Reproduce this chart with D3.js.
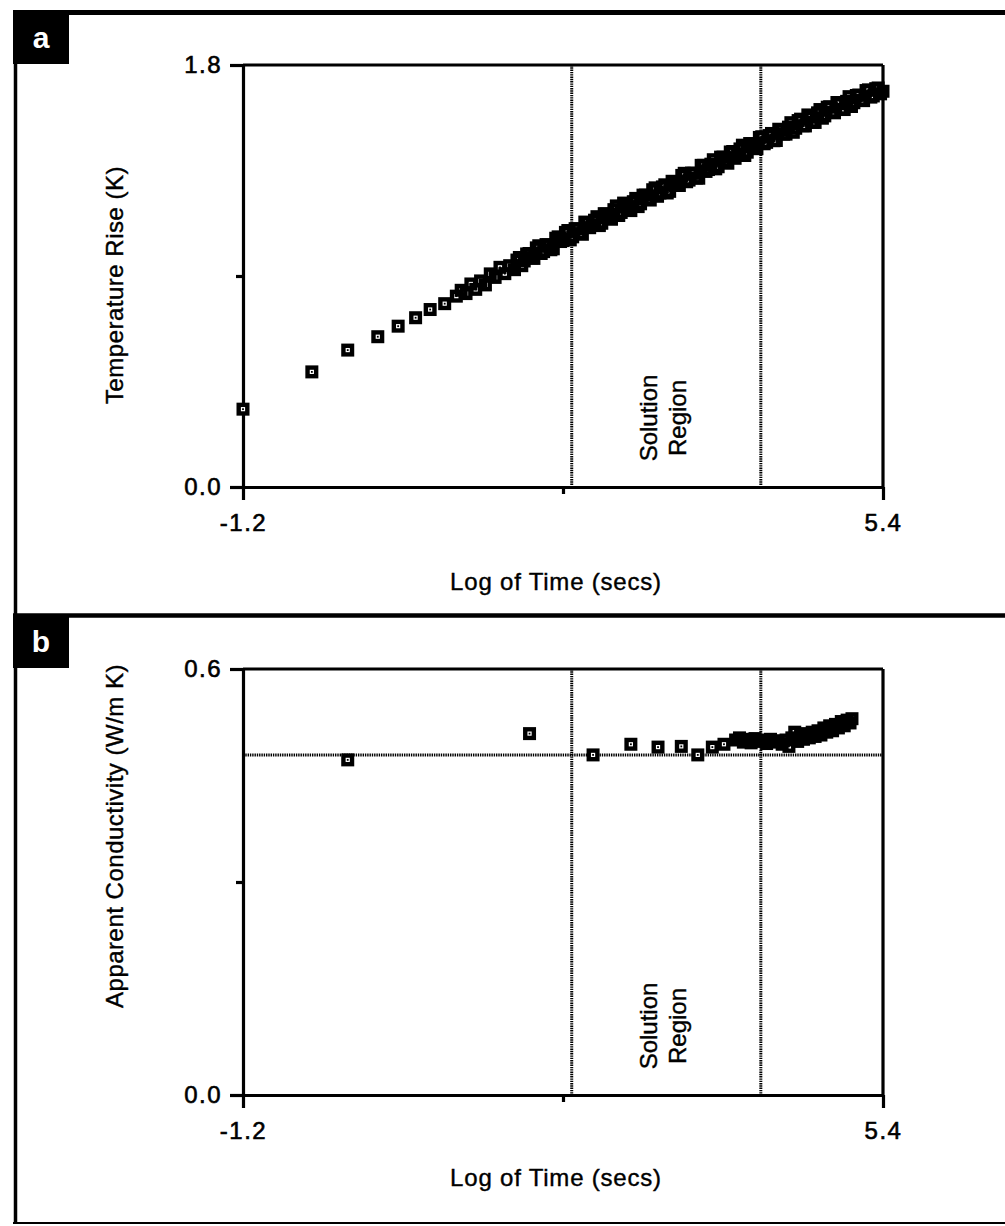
<!DOCTYPE html>
<html>
<head>
<meta charset="utf-8">
<script src="https://cdn.jsdelivr.net/npm/d3@7"></script>
<style>
  html, body { margin: 0; padding: 0; background: #fff; }
  svg { display: block; }
  text { font-family: "Liberation Sans", Arial, Helvetica, sans-serif; fill: #000; }
</style>
</head>
<body>
<svg id="fig" width="1005" height="1226"></svg>
<script>
// ---- axis ticks ----
const timeTicks = [-1.2, 2.1, 5.4];
const timeTickLabels = ["-1.2", "", "5.4"];
const riseTicks = [0, 0.9, 1.8];
const riseTickLabels = ["0.0", "", "1.8"];
const condTicks = [0, 0.3, 0.6];
const condTickLabels = ["0.0", "", "0.6"];

// ---- solution region bounds (log of time) and reference conductivity ----
const solutionBounds = [2.19, 4.14];
const referenceConductivity = 0.479;

// ---- panel a: temperature rise vs log time, early (sparse) readings ----
const riseEarly = [
  [-1.2, 0.332], [-0.49, 0.491], [-0.12, 0.584], [0.19, 0.641], [0.40, 0.686],
  [0.58, 0.722], [0.73, 0.757], [0.88, 0.782], [1.00, 0.814]
];

// ---- panel a: dense readings ----
const riseDense = [
  [1.05, 0.839], [1.10, 0.825], [1.15, 0.866], [1.20, 0.843], [1.25, 0.879],
  [1.30, 0.862], [1.35, 0.909], [1.40, 0.894], [1.45, 0.937], [1.50, 0.910],
  [1.55, 0.944], [1.60, 0.927], [1.65, 0.979], [1.70, 0.964], [1.75, 0.996],
  [1.80, 0.975], [1.85, 1.029], [1.90, 1.004], [1.95, 1.032], [2.00, 1.016],
  [2.05, 1.067], [2.10, 1.051], [2.15, 1.094], [2.20, 1.067], [2.25, 1.101],
  [2.30, 1.078], [2.35, 1.128], [2.40, 1.117], [2.45, 1.153], [2.50, 1.125],
  [2.55, 1.164], [2.60, 1.142], [2.65, 1.199], [2.70, 1.171], [2.75, 1.200],
  [2.80, 1.179], [2.85, 1.231], [2.90, 1.208], [2.95, 1.245], [3.00, 1.224],
  [3.05, 1.276], [3.10, 1.254], [3.15, 1.289], [3.20, 1.261], [3.25, 1.303],
  [3.30, 1.286], [3.35, 1.338], [3.40, 1.309], [3.45, 1.338], [3.50, 1.317],
  [3.55, 1.372], [3.60, 1.354], [3.65, 1.396], [3.70, 1.366], [3.75, 1.407],
  [3.80, 1.381], [3.85, 1.431], [3.90, 1.416], [3.95, 1.458], [4.00, 1.428],
  [4.05, 1.463], [4.10, 1.443], [4.15, 1.494], [4.20, 1.470], [4.25, 1.508],
  [4.30, 1.478], [4.35, 1.523], [4.40, 1.505], [4.45, 1.554], [4.50, 1.530],
  [4.55, 1.569], [4.60, 1.540], [4.65, 1.577], [4.70, 1.555], [4.75, 1.610],
  [4.80, 1.583], [4.85, 1.622], [4.90, 1.596], [4.95, 1.635], [5.00, 1.610],
  [5.05, 1.665], [5.10, 1.639], [5.15, 1.672], [5.20, 1.648], [5.25, 1.694],
  [5.30, 1.668], [5.35, 1.702], [5.40, 1.688]
];

// ---- panel a: dense readings between the above ----
const riseDenseMid = [
  [1.625, 0.968], [1.675, 0.944], [1.725, 0.994], [1.775, 0.978], [1.825, 1.020],
  [1.875, 0.996], [1.925, 1.034], [1.975, 1.012], [2.025, 1.061], [2.075, 1.047],
  [2.125, 1.086], [2.175, 1.054], [2.225, 1.102], [2.275, 1.081], [2.325, 1.130],
  [2.375, 1.106], [2.425, 1.138], [2.475, 1.115], [2.525, 1.166], [2.575, 1.151],
  [2.625, 1.183], [2.675, 1.158], [2.725, 1.211], [2.775, 1.185], [2.825, 1.217],
  [2.875, 1.196], [2.925, 1.245], [2.975, 1.227], [3.025, 1.268], [3.075, 1.240],
  [3.125, 1.280], [3.175, 1.254], [3.225, 1.304], [3.275, 1.290], [3.325, 1.329],
  [3.375, 1.302], [3.425, 1.339], [3.475, 1.318], [3.525, 1.372], [3.575, 1.346],
  [3.625, 1.377], [3.675, 1.357], [3.725, 1.407], [3.775, 1.389], [3.825, 1.429],
  [3.875, 1.402], [3.925, 1.442], [3.975, 1.414], [4.025, 1.465], [4.075, 1.450],
  [4.125, 1.491], [4.175, 1.464], [4.225, 1.499], [4.275, 1.477], [4.325, 1.526],
  [4.375, 1.505], [4.425, 1.535], [4.475, 1.513], [4.525, 1.563], [4.575, 1.541],
  [4.625, 1.587], [4.675, 1.556], [4.725, 1.596], [4.775, 1.573], [4.825, 1.620],
  [4.875, 1.599], [4.925, 1.640], [4.975, 1.611], [5.025, 1.645], [5.075, 1.623],
  [5.125, 1.670], [5.175, 1.649], [5.225, 1.691], [5.275, 1.663], [5.325, 1.699],
  [5.375, 1.677]
];

// ---- panel b: apparent conductivity vs log time ----
const conductivity = [
  [-0.12, 0.472], [1.755, 0.509], [2.41, 0.479], [2.80, 0.494], [3.08, 0.490],
  [3.32, 0.491], [3.49, 0.479], [3.64, 0.490], [3.76, 0.494], [3.88, 0.500],
  [3.92, 0.503], [3.96, 0.497], [4.00, 0.501], [4.04, 0.496], [4.08, 0.502],
  [4.12, 0.498], [4.16, 0.500], [4.20, 0.495], [4.24, 0.501], [4.28, 0.497],
  [4.32, 0.499], [4.36, 0.494], [4.40, 0.500], [4.43, 0.491], [4.46, 0.503],
  [4.49, 0.511], [4.52, 0.498], [4.55, 0.506], [4.58, 0.501], [4.61, 0.509],
  [4.64, 0.503], [4.67, 0.511], [4.70, 0.505], [4.73, 0.513], [4.76, 0.507],
  [4.79, 0.517], [4.82, 0.511], [4.85, 0.520], [4.88, 0.513], [4.91, 0.522],
  [4.94, 0.517], [4.97, 0.526], [5.00, 0.520], [5.03, 0.528], [5.06, 0.524],
  [5.08, 0.530]
];

const svg = d3.select("#fig");
const FONT = 24;

// ---- outer frame ----
const frame = svg.append("g").attr("stroke", "#000").attr("fill", "none");
frame.append("line").attr("x1", 13).attr("x2", 1010).attr("y1", 12.5).attr("y2", 12.5).attr("stroke-width", 5);
frame.append("line").attr("x1", 15.5).attr("x2", 15.5).attr("y1", 10).attr("y2", 1224).attr("stroke-width", 3.5);
frame.append("line").attr("x1", 13).attr("x2", 1010).attr("y1", 615.5).attr("y2", 615.5).attr("stroke-width", 4.5);
frame.append("line").attr("x1", 13).attr("x2", 1010).attr("y1", 1223).attr("y2", 1223).attr("stroke-width", 2);

function panelTag(letter, top) {
  svg.append("rect").attr("x", 13).attr("y", top).attr("width", 56).attr("height", 54).attr("fill", "#000");
  svg.append("text").attr("x", 41).attr("y", top + 27)
    .attr("text-anchor", "middle").attr("dominant-baseline", "central")
    .attr("font-size", 30).attr("font-weight", "bold").style("fill", "#fff")
    .text(letter);
}

function drawPanel(cfg) {
  const g = svg.append("g");
  const x = d3.scaleLinear().domain([-1.2, 5.4]).range([243, 883]);
  const y = d3.scaleLinear().domain(cfg.yDomain).range([cfg.bottom, cfg.top]);
  const dotted = sel => sel.attr("stroke", "#000").attr("stroke-width", 3).attr("stroke-dasharray", "1.4 0.9");

  // solution region boundaries
  g.selectAll("line.bound").data(solutionBounds).join("line")
    .attr("class", "bound")
    .attr("x1", d => x(d)).attr("x2", d => x(d))
    .attr("y1", cfg.top).attr("y2", cfg.bottom)
    .call(dotted);

  if (cfg.refLine != null) {
    g.append("line")
      .attr("x1", x(-1.2)).attr("x2", x(5.4))
      .attr("y1", y(cfg.refLine)).attr("y2", y(cfg.refLine))
      .call(dotted);
  }

  // top and right edges of the plot box
  g.append("line").attr("x1", x(-1.2)).attr("x2", x(5.4)).attr("y1", cfg.top).attr("y2", cfg.top)
    .attr("stroke", "#000").attr("stroke-width", 3.2);
  g.append("line").attr("x1", x(5.4)).attr("x2", x(5.4)).attr("y1", cfg.top).attr("y2", cfg.bottom)
    .attr("stroke", "#000").attr("stroke-width", 3.2);

  // axes
  const xAxis = d3.axisBottom(x).tickValues(timeTicks).tickSize(13).tickSizeOuter(0)
    .tickPadding(14).tickFormat((d, i) => timeTickLabels[i]);
  const gx = g.append("g").attr("transform", `translate(0,${cfg.bottom})`).call(xAxis);
  const yAxis = d3.axisLeft(y).tickValues(cfg.yTicks).tickSize(13).tickSizeOuter(0)
    .tickPadding(8).tickFormat((d, i) => cfg.yTickLabels[i]);
  const gy = g.append("g").attr("transform", `translate(${x(-1.2)},0)`).call(yAxis);

  [gx, gy].forEach(ax => {
    ax.select(".domain").attr("stroke-width", 3.2);
    ax.selectAll(".tick line").attr("stroke-width", 3.2);
    ax.selectAll(".tick text").attr("font-size", FONT).attr("letter-spacing", 1.5)
      .attr("font-family", null).attr("stroke", "#000").attr("stroke-width", 0.6);
  });
  gx.selectAll(".tick").filter((d, i) => i === 1).select("line").attr("y2", 7);
  gy.selectAll(".tick").filter((d, i) => i === 1).select("line").attr("x2", -7);

  // data markers: white square faces underneath, heavy outlines and centre dots on top,
  // so overlapping readings merge into a solid band
  const faces = g.append("g");
  faces.selectAll("rect").data(cfg.data).join("rect")
    .attr("x", d => x(d[0]) - 4.3).attr("y", d => y(d[1]) - 4.3)
    .attr("width", 8.6).attr("height", 8.6).attr("fill", "#fff");
  const outlines = g.append("g");
  outlines.selectAll("rect").data(cfg.data).join("rect")
    .attr("x", d => x(d[0]) - 4.3).attr("y", d => y(d[1]) - 4.3)
    .attr("width", 8.6).attr("height", 8.6)
    .attr("fill", "none").attr("stroke", "#000").attr("stroke-width", 4.4);
  outlines.selectAll("circle").data(cfg.data).join("rect")
    .attr("x", d => x(d[0]) - 0.9).attr("y", d => y(d[1]) - 0.9)
    .attr("width", 1.8).attr("height", 1.8).attr("fill", "#000");

  // axis titles
  g.append("text").attr("x", 556).attr("y", cfg.xTitleY)
    .attr("text-anchor", "middle").attr("dominant-baseline", "central")
    .attr("font-size", FONT).attr("letter-spacing", 0.8)
    .attr("stroke", "#000").attr("stroke-width", 0.4)
    .text("Log of Time (secs)");
  g.append("text")
    .attr("transform", `translate(114,${cfg.yTitleY}) rotate(-90)`)
    .attr("text-anchor", "middle").attr("dominant-baseline", "central")
    .attr("font-size", FONT).attr("letter-spacing", 0.5)
    .attr("stroke", "#000").attr("stroke-width", 0.4)
    .text(cfg.yTitle);

  // solution region label
  const sx = (x(solutionBounds[0]) + x(solutionBounds[1])) / 2;
  const sy = cfg.bottom - 69;
  const lab = g.append("text")
    .attr("transform", `translate(${sx},${sy}) rotate(-90)`)
    .attr("text-anchor", "middle").attr("font-size", FONT)
    .attr("stroke", "#000").attr("stroke-width", 0.4);
  lab.append("tspan").attr("x", 0).attr("y", -9).text("Solution");
  lab.append("tspan").attr("x", 0).attr("y", 20).text("Region");
}

drawPanel({
  top: 65, bottom: 487, yDomain: [0, 1.8],
  yTicks: riseTicks, yTickLabels: riseTickLabels,
  data: riseEarly.concat(riseDense, riseDenseMid),
  refLine: null,
  xTitleY: 581, yTitleY: 285,
  yTitle: "Temperature Rise (K)"
});

drawPanel({
  top: 669, bottom: 1095, yDomain: [0, 0.6],
  yTicks: condTicks, yTickLabels: condTickLabels,
  data: conductivity,
  refLine: referenceConductivity,
  xTitleY: 1177, yTitleY: 836,
  yTitle: "Apparent Conductivity (W/m K)"
});

panelTag("a", 10);
panelTag("b", 614);
</script>
</body>
</html>
